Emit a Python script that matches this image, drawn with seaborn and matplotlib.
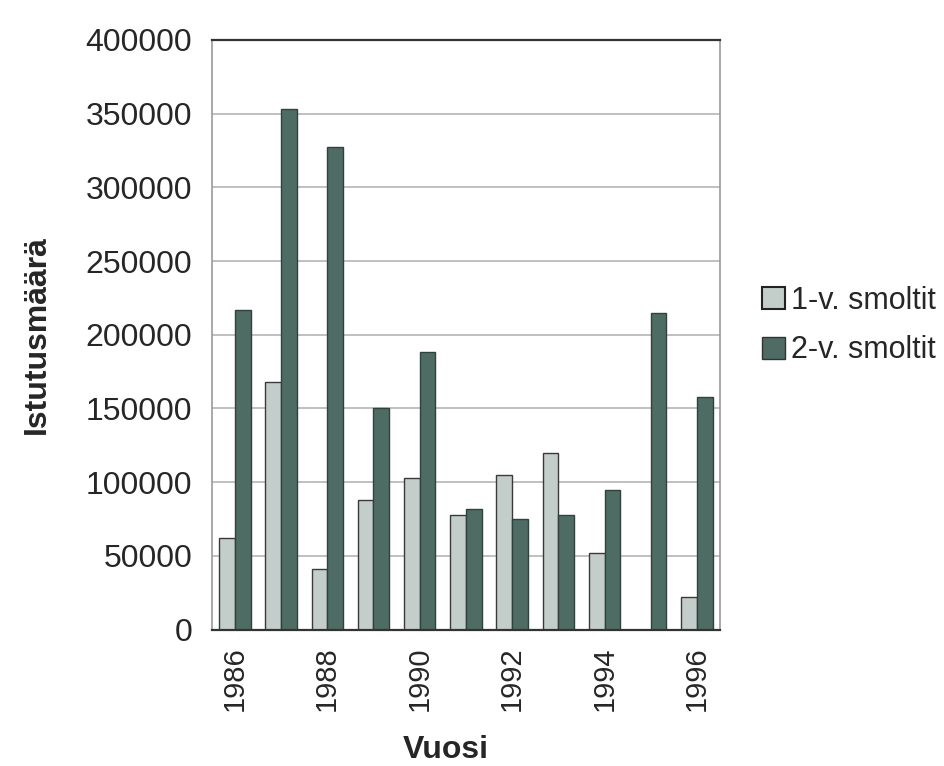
import matplotlib
matplotlib.use("Agg")
import matplotlib.pyplot as plt
import seaborn as sns
import pandas as pd
from matplotlib.patches import Patch

years = [1986, 1987, 1988, 1989, 1990, 1991, 1992, 1993, 1994, 1995, 1996]
smolt_1v = [62000, 168000, 41000, 88000, 103000, 78000, 105000, 120000, 52000, 0, 22000]
smolt_2v = [217000, 353000, 327000, 150000, 188000, 82000, 75000, 78000, 95000, 215000, 158000]
series_names = ["1-v. smoltit", "2-v. smoltit"]
y_ticks = [0, 50000, 100000, 150000, 200000, 250000, 300000, 350000, 400000]
x_tick_labels = ["1986", "1988", "1990", "1992", "1994", "1996"]

df = pd.DataFrame({
    "Vuosi": [str(y) for y in years] * 2,
    "value": smolt_1v + smolt_2v,
    "series": [series_names[0]] * len(years) + [series_names[1]] * len(years),
})

sns.set_style("white")
plt.rcParams["font.family"] = ["Liberation Sans", "DejaVu Sans"]

colors = ["#c3cdc9", "#4f6c64"]
edges = ["#3a3a3a", "#2f423d"]

fig = plt.figure(figsize=(9.45, 7.66), dpi=100)
ax = fig.add_axes([0.224, 0.178, 0.538, 0.77])

sns.barplot(data=df, x="Vuosi", y="value", hue="series", palette=colors,
            width=0.68, dodge=True, ax=ax, legend=False, saturation=1)

for i, container in enumerate(ax.containers):
    for p in container:
        p.set_edgecolor(edges[i])
        p.set_linewidth(1.0)

ax.set_ylim(0, 400000)
ax.set_yticks(y_ticks)
ax.set_yticklabels([str(v) for v in y_ticks], fontsize=23)
ax.set_xticks(list(range(0, len(years), 2)))
ax.set_xticklabels(x_tick_labels, rotation=90, fontsize=21)
ax.tick_params(axis="y", length=0, pad=14)
ax.tick_params(axis="x", length=0, pad=12)

ax.yaxis.grid(True, color="#b5b5b5", linewidth=1.2)
ax.set_axisbelow(True)

ax.set_xlabel("Vuosi", fontsize=23, fontweight="bold")
ax.set_ylabel("Istutusmäärä", fontsize=23, fontweight="bold")
ax.xaxis.set_label_coords(0.46, -0.178)
ax.yaxis.set_label_coords(-0.315, 0.5)

for side in ["top", "bottom"]:
    ax.spines[side].set_color("#333333")
    ax.spines[side].set_linewidth(1.6)
for side in ["left", "right"]:
    ax.spines[side].set_color("#9a9a9a")
    ax.spines[side].set_linewidth(1.2)

handles = [Patch(facecolor=colors[0], edgecolor="#222222", linewidth=1.5),
           Patch(facecolor=colors[1], edgecolor="#333333", linewidth=1.0)]
fig.legend(handles, series_names, loc="center left", bbox_to_anchor=(0.806, 0.575),
           frameon=False, fontsize=22, handlelength=0.75, handleheight=0.75,
           handletextpad=0.2, labelspacing=0.65, borderaxespad=0, borderpad=0)

fig.savefig("out.png", dpi=100, facecolor="white")
